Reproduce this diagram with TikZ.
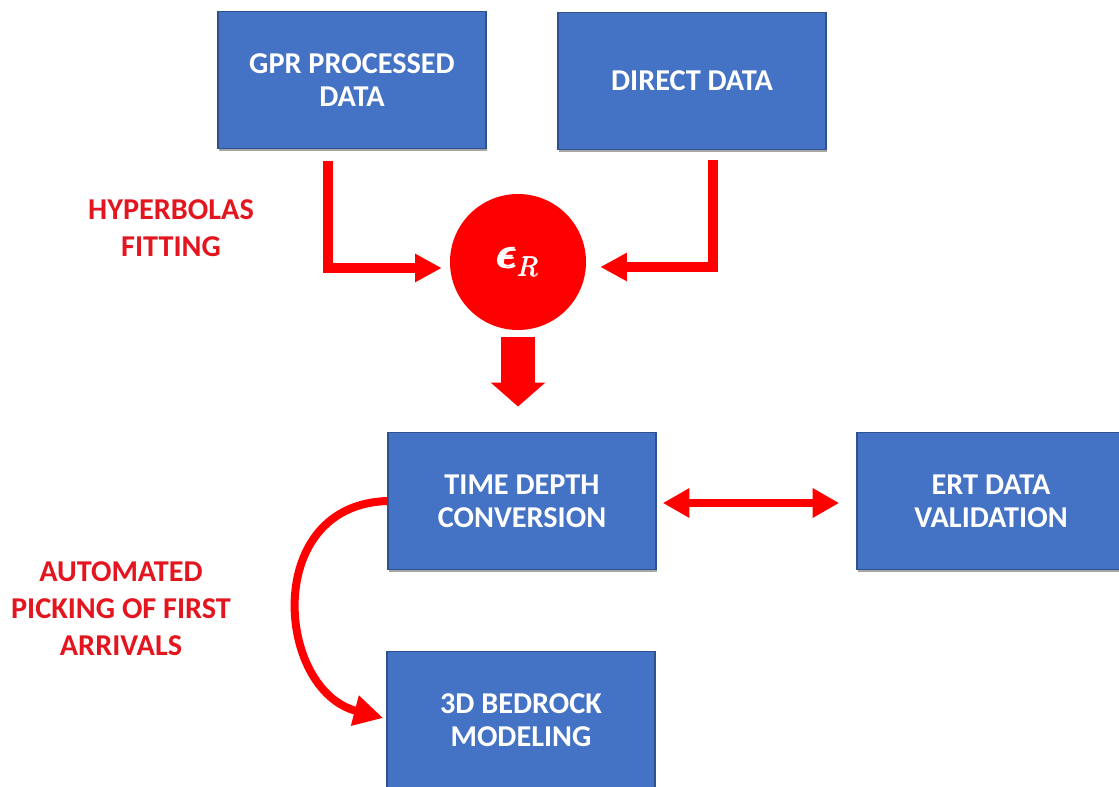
\documentclass[tikz,border=0pt]{standalone}
\usepackage{amsmath}
\usepackage{fontspec}
\setmainfont{Carlito}
\usetikzlibrary{arrows.meta,calc,shadows}
\definecolor{boxblue}{HTML}{4472C4}
\definecolor{boxedge}{HTML}{2F528F}
\definecolor{arrowred}{HTML}{FF0000}
\definecolor{labelred}{HTML}{E3151F}
\begin{document}
\begin{tikzpicture}[x=0.75pt,y=-0.75pt,
  box/.style={draw=boxedge, line width=1.2pt, fill=boxblue, text=white,
    font=\bfseries\fontsize{22.7}{24.75}\selectfont, align=center,
    minimum width=201pt, minimum height=103pt, inner sep=0pt,
    drop shadow={shadow xshift=1pt, shadow yshift=-1.5pt, fill=black, opacity=0.35}},
  lbl/.style={text=labelred, font=\bfseries\fontsize{22.7}{27.75}\selectfont, align=center},
  redline/.style={draw=arrowred, line width=7.5pt, line join=miter, -{Triangle[length=20pt,width=20pt]}},
]
\useasboundingbox (0,0) rectangle (1119,787);
\node[box] (gpr) at (352,80) {GPR PROCESSED\\DATA};
\node[box] (direct) at (692,81) {DIRECT DATA};
\node[circle, fill=arrowred, minimum size=102pt, inner sep=0pt, text=white, font=\fontsize{32}{32}\selectfont] (eps) at (518,262)
  {${\scalebox{1.3}{$\pmb{\boldsymbol{\epsilon}}$}}_{\pmb{R}}$};
\node[box] (td) at (522,501) {TIME DEPTH\\CONVERSION};
\node[box] (ert) at (991,501) {ERT DATA\\VALIDATION};
\node[box] (bed) at (521,720) {3D BEDROCK\\MODELING};
\node[lbl] (hyp) at (171,228) {HYPERBOLAS\\FITTING};
\node[lbl] (auto) at (121,609) {AUTOMATED\\PICKING OF FIRST\\ARRIVALS};
\draw[redline] ($(gpr.south)+(-24,12)$) |- ($(eps.west)+(-8,6)$);
\draw[redline] ($(direct.south)+(21,10)$) |- ($(eps.east)+(14,5)$);
\draw[arrowred, line width=26pt, -{Triangle[length=18pt,width=40pt]}] ($(eps.south)+(0,7)$) -- ($(eps.south |- td.north)+(0,-25)$);
\draw[arrowred, line width=6pt, {Triangle[length=20pt,width=21pt]}-{Triangle[length=20pt,width=21pt]}] ($(td.east)+(6,2)$) -- ($(ert.west)+(-17,2)$);
\draw[arrowred, line width=6pt, -{Triangle[length=22pt,width=22pt]}] (td.west) .. controls (262,505) and (276,690) .. ($(bed.west)+(-3,-2)$);
\end{tikzpicture}
\end{document}
